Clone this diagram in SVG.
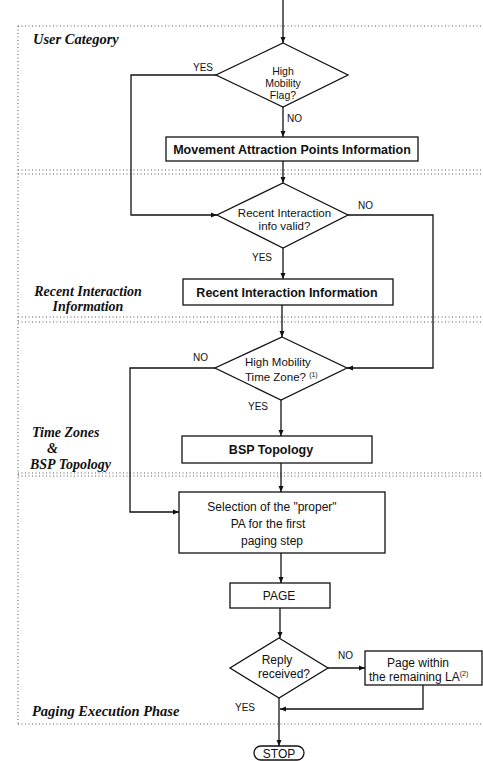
<svg xmlns="http://www.w3.org/2000/svg" width="483" height="761" viewBox="0 0 483 761">
<defs>
<marker id="arr" markerWidth="7" markerHeight="6" refX="6" refY="3" orient="auto" markerUnits="userSpaceOnUse"><path d="M0,0.5 L6,3 L0,5.5 z" fill="#111"/></marker>
<style>
.sec{fill:none;stroke:#555;stroke-width:1;stroke-dasharray:1 2.5}
.shape{fill:#fff;stroke:#111;stroke-width:1.3}
.c{fill:none;stroke:#111;stroke-width:1.3;marker-end:url(#arr)}
.t{font-family:"Liberation Sans",Arial,sans-serif;font-size:12px;fill:#111;text-anchor:middle}
.s{text-anchor:start}
.d{font-size:11.5px}
.d1{font-size:10.5px}
.b{font-weight:bold;font-size:12.5px}
.lbl{font-family:"Liberation Sans",Arial,sans-serif;font-size:10px;fill:#111}
.sl{font-family:"Liberation Serif","Times New Roman",serif;font-weight:bold;font-style:italic;font-size:14px;fill:#111}
.sup{font-size:7px}
</style>
</defs>
<rect width="483" height="761" fill="#fff"/>
<g id="sections">
<path class="sec" d="M18,26 H483 M18,26 V724 M18,170 H483 M18,174 H483 M18,317 H483 M18,322 H483 M18,473 H483 M18,476 H483 M18,724 H483"/>
<text class="sl" x="33" y="44" style="font-size:14.5px">User Category</text>
<text class="sl" x="88" y="296" text-anchor="middle">Recent Interaction</text>
<text class="sl" x="88" y="311" text-anchor="middle">Information</text>
<text class="sl" x="32" y="437">Time Zones</text>
<text class="sl" x="47" y="453">&amp;</text>
<text class="sl" x="30" y="469">BSP Topology</text>
<text class="sl" x="32" y="716" style="font-size:14.5px">Paging Execution Phase</text>
</g>
<g id="connectors">
<path class="c" d="M283,0 V43"/>
<path class="c" d="M283,107 V137"/>
<path class="c" d="M216,75 H131 V215 H217"/>
<path class="c" d="M283,161 V183"/>
<path class="c" d="M283,248 V279"/>
<path class="c" d="M348,215 H433 V368 H347"/>
<path class="c" d="M282,305 V337"/>
<path class="c" d="M215,368 H130 V512 H179"/>
<path class="c" d="M281,400 V436"/>
<path class="c" d="M281,463 V492"/>
<path class="c" d="M281,553 V583"/>
<path class="c" d="M280,608 V638"/>
<path class="c" d="M328,668 H365"/>
<path class="c" d="M423,685 V709 H280"/>
<path class="c" d="M279,698 V746"/>
<text class="lbl" x="193" y="71">YES</text>
<text class="lbl" x="287" y="122">NO</text>
<text class="lbl" x="358" y="209">NO</text>
<text class="lbl" x="252" y="261">YES</text>
<text class="lbl" x="193" y="361">NO</text>
<text class="lbl" x="248" y="410">YES</text>
<text class="lbl" x="338" y="659">NO</text>
<text class="lbl" x="235" y="711">YES</text>
</g>
<g id="d1">
<polygon class="shape" points="283,43 348,75 283,107 216,75"/>
<text class="t d1" x="283" y="75">High</text>
<text class="t d1" x="283" y="87">Mobility</text>
<text class="t d1" x="283" y="99">Flag?</text>
</g>
<g id="box1">
<rect class="shape" x="166" y="137" width="252" height="24"/>
<text class="t b" x="292" y="153.5">Movement Attraction Points Information</text>
</g>
<g id="d2">
<polygon class="shape" points="283,183 348,215 283,248 217,215"/>
<text class="t d" x="284.5" y="217">Recent Interaction</text>
<text class="t d" x="284.5" y="230">info valid?</text>
</g>
<g id="box2">
<rect class="shape" x="183" y="279" width="210" height="26"/>
<text class="t b" x="287" y="296.5">Recent Interaction Information</text>
</g>
<g id="d3">
<polygon class="shape" points="282,337 347,368 281,400 215,368"/>
<text class="t d s" x="245" y="366">High Mobility</text>
<text class="t d s" x="245" y="381">Time Zone? <tspan class="sup" dy="-4">(1)</tspan></text>
</g>
<g id="box3">
<rect class="shape" x="182" y="436" width="190" height="27"/>
<text class="t b" x="271" y="454">BSP Topology</text>
</g>
<g id="box4">
<rect class="shape" x="179" y="492" width="206" height="61"/>
<text class="t" x="272" y="511">Selection of the "proper"</text>
<text class="t" x="268" y="528">PA for the first</text>
<text class="t" x="272" y="545">paging step</text>
</g>
<g id="box5">
<rect class="shape" x="230" y="583" width="100" height="25"/>
<text class="t" x="279" y="600">PAGE</text>
</g>
<g id="d4">
<polygon class="shape" points="279,638 328,668 279,698 230,668"/>
<text class="t" x="277" y="664">Reply</text>
<text class="t" x="284" y="678">received?</text>
</g>
<g id="box6">
<rect class="shape" x="365" y="651" width="117" height="34"/>
<text class="t" x="418" y="667">Page within</text>
<text class="t s" x="369" y="681">the remaining LA<tspan class="sup" dy="-5">(2)</tspan></text>
</g>
<g id="stop">
<rect class="shape" x="254" y="746" width="50" height="14" rx="7"/>
<text class="t" x="279" y="757.5">STOP</text>
</g>
</svg>
